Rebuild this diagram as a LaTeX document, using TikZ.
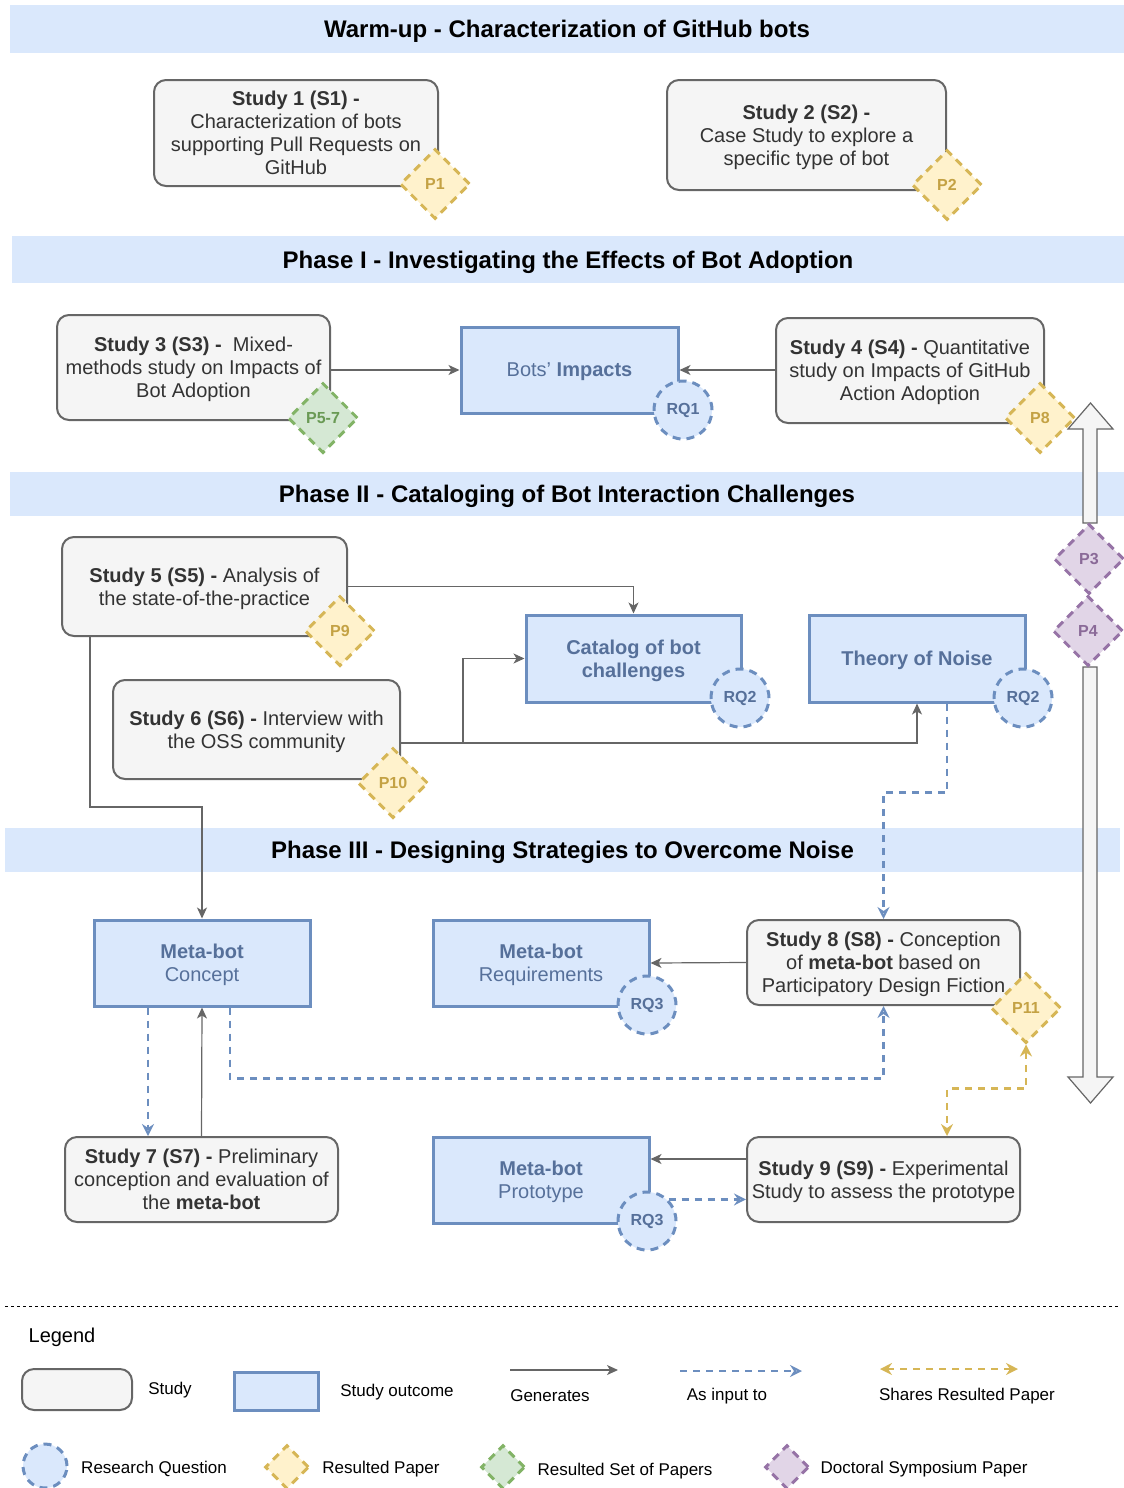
\documentclass[tikz,border=0pt]{standalone}
\usepackage{fontspec}
\setmainfont{Liberation Sans}
\usetikzlibrary{shapes.geometric,arrows.meta,calc}

\definecolor{bandfill}{HTML}{DAE8FC}
\definecolor{outfill}{HTML}{DAE8FC}
\definecolor{outline}{HTML}{6C8EBF}
\definecolor{outtext}{HTML}{56709A}
\definecolor{studyfill}{HTML}{F5F5F5}
\definecolor{studyline}{HTML}{666666}
\definecolor{studytext}{HTML}{333333}
\definecolor{papfill}{HTML}{FFF2CC}
\definecolor{papline}{HTML}{D6B656}
\definecolor{paptext}{HTML}{C4A244}
\definecolor{setfill}{HTML}{D5E8D4}
\definecolor{setline}{HTML}{82B366}
\definecolor{settext}{HTML}{6A9A55}
\definecolor{dsfill}{HTML}{E1D5E7}
\definecolor{dsline}{HTML}{9673A6}
\definecolor{dstext}{HTML}{8A6A98}

\tikzset{
  band/.style={fill=bandfill, draw=none, text=black, inner sep=0,
    text depth=0pt, font=\fontsize{12}{14}\selectfont\bfseries},
  studybox/.style={draw=studyline, fill=studyfill, line width=1pt,
    rounded corners=6pt, text=studytext, align=center, inner sep=0,
    text depth=0pt, font=\fontsize{10}{11.5}\selectfont},
  outbox/.style={draw=outline, fill=outfill, line width=1.5pt,
    text=outtext, align=center, inner sep=0, text depth=0pt,
    font=\fontsize{10}{11.5}\selectfont},
  rq/.style={circle, draw=outline, fill=outfill, line width=1.5pt,
    dash pattern=on 4pt off 3pt, minimum size=29pt, inner sep=0,
    text=outtext, font=\fontsize{8}{9}\selectfont\bfseries},
  paper/.style={diamond, aspect=1, minimum width=35pt, minimum height=35pt,
    inner sep=0, line width=1.5pt, dash pattern=on 4pt off 3pt,
    font=\fontsize{8}{9}\selectfont\bfseries},
  pap/.style={paper, draw=papline, fill=papfill, text=paptext},
  pset/.style={paper, draw=setline, fill=setfill, text=settext},
  pds/.style={paper, draw=dsline, fill=dsfill, text=dstext},
  gen/.style={draw=studyline, line width=0.6pt,
    -{Stealth[length=5.5pt,width=5pt,inset=1.5pt]}},
  inp/.style={draw=outline, line width=1.2pt, dash pattern=on 3.5pt off 3pt,
    -{Stealth[open,length=6pt,width=6pt,inset=2pt]}},
  shr/.style={draw=papline, line width=1.2pt, dash pattern=on 3.5pt off 3pt,
    {Stealth[length=6pt,width=6pt,inset=2pt]}-{Stealth[length=6pt,width=6pt,inset=2pt]}},
  bigarrow/.style={draw=studyline, fill=studyfill, line width=0.6pt},
  sep/.style={draw=black, line width=0.5pt, dash pattern=on 1.5pt off 1.5pt},
  legtext/.style={inner sep=0, text=black, font=\fontsize{8.5}{10}\selectfont},
}

\begin{document}
\begin{tikzpicture}[x=0.5pt, y=-0.5pt]
\useasboundingbox (0,0) rectangle (1124,1488);

% ---------- phase bands ----------
\node[band, minimum width=557pt, minimum height=24pt] (b0) at (567,29)
  {Warm-up - Characterization of GitHub bots};
\node[band, minimum width=556pt, minimum height=23.5pt] (b1) at (568,259.5)
  {Phase I - Investigating the Effects of Bot Adoption};
\node[band, minimum width=557pt, minimum height=22pt] (b2) at (567,494)
  {Phase II - Cataloging of Bot Interaction Challenges};
\node[band, minimum width=557.5pt, minimum height=22pt] (b3) at (562.5,850)
  {Phase III - Designing Strategies to Overcome Noise};

% ---------- warm-up ----------
\node[studybox, minimum width=142pt, minimum height=53pt] (s1) at (296,133)
  {\textbf{Study 1 (S1) -}\\Characterization of bots\\supporting Pull Requests on\\GitHub};
\node[studybox, minimum width=139.5pt, minimum height=55pt] (s2) at (806.5,135)
  {\textbf{Study 2 (S2) -}\\Case Study to explore a\\specific type of bot};
\node[pap] (p1) at (435,184) {P1};
\node[pap] (p2) at (947,185) {P2};

% ---------- phase I ----------
\node[studybox, minimum width=136.5pt, minimum height=52.5pt] (s3) at (193.5,367.5)
  {\textbf{Study 3 (S3) -}\ \ Mixed-\\methods study on Impacts of\\Bot Adoption};
\node[outbox, minimum width=108.5pt, minimum height=43pt] (impacts) at (569.5,370)
  {Bots' \textbf{Impacts}};
\node[studybox, minimum width=134pt, minimum height=52.5pt] (s4) at (910,370.5)
  {\textbf{Study 4 (S4) -} Quantitative\\study on Impacts of GitHub\\Action Adoption};
\node[pset] (p57) at (323,418) {P5-7};
\node[rq] (rq1) at (683,410) {RQ1};
\node[pap] (p8) at (1040,418) {P8};

% ---------- long arrows of the doctoral symposium papers ----------
\draw[bigarrow] (1083,523) -- (1083,429) -- (1068,429) -- (1090.5,403)
  -- (1113,429) -- (1097,429) -- (1097,523) -- cycle;
\draw[bigarrow] (1083,667) -- (1083,1077) -- (1068,1077) -- (1090.5,1103)
  -- (1113,1077) -- (1097,1077) -- (1097,667) -- cycle;
\node[pds] (p3) at (1089,559) {P3};
\node[pds] (p4) at (1088,631) {P4};

% ---------- phase II ----------
\node[studybox, minimum width=142.5pt, minimum height=49.5pt] (s5) at (204.5,586.5)
  {\textbf{Study 5 (S5) -} Analysis of\\the state-of-the-practice};
\node[outbox, minimum width=107.5pt, minimum height=43.5pt] (catalog) at (633.5,658.5)
  {\textbf{Catalog of bot}\\\textbf{challenges}};
\node[outbox, minimum width=108pt, minimum height=43.5pt] (theory) at (917,658.5)
  {\textbf{Theory of Noise}};
\node[studybox, minimum width=143.5pt, minimum height=49.5pt] (s6) at (256.5,729.5)
  {\textbf{Study 6 (S6) -} Interview with\\the OSS community};
\node[pap] (p9) at (340,631) {P9};
\node[rq] (rq2a) at (740,698) {RQ2};
\node[rq] (rq2b) at (1023,698) {RQ2};
\node[pap] (p10) at (393,783) {P10};

% ---------- phase III ----------
\node[outbox, minimum width=108pt, minimum height=43pt] (concept) at (202,963)
  {\textbf{Meta-bot}\\Concept};
\node[outbox, minimum width=108pt, minimum height=43pt] (req) at (541,963)
  {\textbf{Meta-bot}\\Requirements};
\node[studybox, minimum width=136.5pt, minimum height=42.5pt] (s8) at (883.5,962.5)
  {\textbf{Study 8 (S8) -} Conception\\of \textbf{meta-bot} based on\\Participatory Design Fiction};
\node[studybox, minimum width=136.5pt, minimum height=42.5pt] (s7) at (201.5,1179.5)
  {\textbf{Study 7 (S7) -} Preliminary\\conception and evaluation of\\the \textbf{meta-bot}};
\node[outbox, minimum width=108pt, minimum height=43pt] (proto) at (541,1180)
  {\textbf{Meta-bot}\\Prototype};
\node[studybox, minimum width=136.5pt, minimum height=42.5pt] (s9) at (883.5,1179.5)
  {\textbf{Study 9 (S9) -} Experimental\\Study to assess the prototype};
\node[rq] (rq3a) at (647,1005) {RQ3};
\node[rq] (rq3b) at (647,1221) {RQ3};
\node[pap] (p11) at (1026,1008) {P11};

% ---------- connectors ----------
\draw[gen] (s3.east |- impacts.west) -- (impacts.west);
\draw[gen] (s4.west |- impacts.east) -- (impacts.east);
\draw[gen] (s5.east) -| (catalog.north);
\coordinate (s6out) at ($(s6.east)+(0,13.5)$);
\draw[gen] (s6out) -- ++(62,0) |- (catalog.west);
\draw[gen] (s6out) -| (theory.south);
\coordinate (s5out) at ($(s5.south west)+(29,0)$);
\draw[gen] (s5out) -- ++(0,170) -| (concept.north);
\coordinate (thout) at ($(theory.south)+(30,0)$);
\draw[inp] (thout) -- ++(0,89) -| (s8.north);
\draw[gen] (s8.west) -- (req.east);
\draw[gen] (s7.north) -- (concept.south);
\coordinate (cout1) at ($(concept.south)+(-54,0)$);
\draw[inp] (cout1) -- (cout1 |- s7.north);
\coordinate (cout2) at ($(concept.south)+(28,0)$);
\draw[inp] (cout2) -- ++(0,71) -| (s8.south);
\coordinate (s9out) at ($(s9.west)+(0,-20.5)$);
\draw[gen] (s9out) -- (proto.east |- s9out);
\draw[inp] (rq3b.north east) -- (s9.west |- rq3b.north east);
\coordinate (s9in) at ($(s9.north)+(63.5,0)$);
\draw[shr] (p11.south) -- ++(0,44) -| (s9in);

% ---------- legend ----------
\coordinate (sepa) at (5,1306);
\coordinate (sepb) at (1118,1306);
\draw[sep] (sepa) -- (sepb);
\node[legtext, font=\fontsize{10}{12}\selectfont] (leg) at (62,1337) {Legend};

\node[studybox, minimum width=55pt, minimum height=20.5pt] (lstudy) at (77,1389.5) {};
\node[legtext] (lstudyt) at (170,1390) {Study};
\node[outbox, minimum width=42pt, minimum height=19pt] (lout) at (276,1391) {};
\node[legtext] (loutt) at (397,1392) {Study outcome};

\coordinate (lg1a) at (510,1370);
\coordinate (lg1b) at (618,1370);
\draw[gen] (lg1a) -- (lg1b);
\node[legtext] (lgent) at (550,1396) {Generates};
\coordinate (lg2a) at (680,1371);
\coordinate (lg2b) at (802,1371);
\draw[inp] (lg2a) -- (lg2b);
\node[legtext] (linpt) at (727,1396) {As input to};
\coordinate (lg3a) at (880,1369);
\coordinate (lg3b) at (1018,1369);
\draw[shr] (lg3a) -- (lg3b);
\node[legtext] (lshrt) at (967,1396) {Shares Resulted Paper};

\node[rq, minimum size=22pt] (lrq) at (45,1466) {};
\node[legtext] (lrqt) at (154,1469) {Research Question};
\node[pap, minimum width=22pt, minimum height=22pt] (lpap) at (287,1467) {};
\node[legtext] (lpapt) at (381,1469) {Resulted Paper};
\node[pset, minimum width=22pt, minimum height=22pt] (lset) at (503,1467) {};
\node[legtext] (lsett) at (625,1471) {Resulted Set of Papers};
\node[pds, minimum width=22pt, minimum height=22pt] (lds) at (787,1467) {};
\node[legtext] (ldst) at (924,1469) {Doctoral Symposium Paper};
\end{tikzpicture}
\end{document}
